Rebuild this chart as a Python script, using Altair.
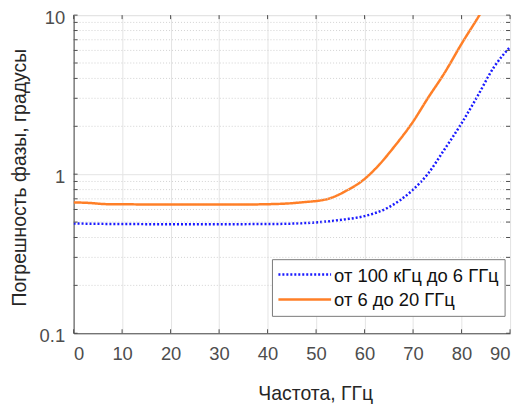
import altair as alt
import pandas as pd

# Data
freq_blue = [0, 10, 20, 30, 40, 45, 52.5, 56, 60, 64.8, 70, 73, 76.4, 80, 83.2, 86.7, 90]
err_blue = [0.49, 0.486, 0.485, 0.485, 0.486, 0.489, 0.505, 0.52, 0.545, 0.615, 0.80, 1.0, 1.42, 2.09, 3.06, 4.72, 6.3]
freq_orange = [0, 3, 7, 20, 35, 42, 47, 52.5, 56, 60, 62.7, 66.2, 70, 73, 76.4, 80, 83.6, 84.5]
err_orange = [0.665, 0.66, 0.648, 0.645, 0.645, 0.65, 0.665, 0.70, 0.78, 0.933, 1.12, 1.50, 2.14, 2.99, 4.29, 6.6, 9.9, 11.0]
series_names = ["от 100 кГц до 6 ГГц", "от 6 до 20 ГГц"]
series_colors = ["#1a1aff", "#ff7f27"]
x_ticks = [0, 10, 20, 30, 40, 50, 60, 70, 80, 90]
y_major = [0.1, 1, 10]
y_minor = [0.2, 0.3, 0.4, 0.5, 0.6, 0.7, 0.8, 0.9, 2, 3, 4, 5, 6, 7, 8, 9]

df = pd.concat([
    pd.DataFrame({"f": freq_blue, "e": err_blue, "s": series_names[0]}),
    pd.DataFrame({"f": freq_orange, "e": err_orange, "s": series_names[1]}),
])
minor_df = pd.DataFrame({"v": y_minor})
all_y_df = pd.DataFrame({"v": y_minor + y_major})
xt_df = pd.DataFrame({"t": x_ticks})

FONT = "Liberation Sans"
W, H = 439, 320
LBL = 18.5
TTL = 19.5

x_scale = alt.Scale(domain=[0, 90], nice=False, zero=False)
y_scale = alt.Scale(type="log", domain=[0.1, 10], nice=False)

lines = alt.Chart(df).mark_line(clip=True, strokeWidth=2.5, interpolate="monotone").encode(
    x=alt.X("f:Q", scale=x_scale,
            axis=alt.Axis(values=x_ticks, title="Частота, ГГц", grid=True,
                          gridColor="#e4e4e4", labelFontSize=LBL, labelColor="#4d4d4d",
                          titleFontSize=TTL, titleFontWeight="normal", titleColor="#262626",
                          labelPadding=11, tickSize=0, titleX=243, titleY=61,
                          titleBaseline="middle", domainColor="#4d4d4d")),
    y=alt.Y("e:Q", scale=y_scale,
            axis=alt.Axis(values=y_major, title="Погрешность фазы, градусы", grid=True,
                          gridColor="#e4e4e4", labelFontSize=LBL, labelColor="#4d4d4d",
                          labelExpr="datum.value < 0.5 ? '0.1' : datum.value < 5 ? '1' : '10'",
                          labelOffset=2,
                          titleFontSize=TTL, titleFontWeight="normal", titleColor="#262626",
                          labelPadding=9, tickSize=0, titleX=-54, titleY=163,
                          titleBaseline="middle", domainColor="#4d4d4d")),
    color=alt.Color("s:N", scale=alt.Scale(domain=series_names, range=series_colors), legend=None),
    strokeDash=alt.StrokeDash("s:N", scale=alt.Scale(domain=series_names, range=[[2, 2], [1, 0]]),
                              legend=None),
)

minor = alt.Chart(minor_df).mark_rule(
    color="#d2d2d2", strokeDash=[1, 2], strokeWidth=1
).encode(y=alt.Y("v:Q", scale=y_scale))

# inward tick marks (MATLAB style)
yt_left = alt.Chart(all_y_df).mark_rule(color="#4d4d4d").encode(
    y=alt.Y("v:Q", scale=y_scale), x=alt.value(0), x2=alt.value(4))
yt_right = alt.Chart(all_y_df).mark_rule(color="#4d4d4d").encode(
    y=alt.Y("v:Q", scale=y_scale), x=alt.value(W - 4), x2=alt.value(W))
xt_bot = alt.Chart(xt_df).mark_rule(color="#4d4d4d").encode(
    x=alt.X("t:Q", scale=x_scale), y=alt.value(H - 4), y2=alt.value(H))
xt_top = alt.Chart(xt_df).mark_rule(color="#4d4d4d").encode(
    x=alt.X("t:Q", scale=x_scale), y=alt.value(0), y2=alt.value(4))

# legend box (manual, MATLAB style)
leg_df = pd.DataFrame({"s": series_names})
box = alt.Chart(leg_df.head(1)).mark_rect(fill="white", stroke="#7a7a7a", strokeWidth=1).encode(
    x=alt.value(200), x2=alt.value(434), y=alt.value(246), y2=alt.value(303))
leg_blue = alt.Chart(leg_df.head(1)).mark_rule(color=series_colors[0], strokeWidth=2.5,
                                                strokeDash=[2, 2]).encode(
    x=alt.value(206), x2=alt.value(259), y=alt.value(261))
leg_orange = alt.Chart(leg_df.tail(1)).mark_rule(color=series_colors[1], strokeWidth=2.5).encode(
    x=alt.value(206), x2=alt.value(259), y=alt.value(286))
leg_t1 = alt.Chart(leg_df.head(1)).mark_text(align="left", baseline="middle", fontSize=LBL,
                                             font=FONT, color="#111").encode(
    x=alt.value(262), y=alt.value(262), text="s:N")
leg_t2 = alt.Chart(leg_df.tail(1)).mark_text(align="left", baseline="middle", fontSize=LBL,
                                             font=FONT, color="#111").encode(
    x=alt.value(262), y=alt.value(287), text="s:N")

chart = alt.layer(
    lines, minor, yt_left, yt_right, xt_bot, xt_top,
    box, leg_blue, leg_orange, leg_t1, leg_t2
).resolve_scale(y="shared", x="shared").properties(
    width=W, height=H,
    autosize=alt.AutoSizeParams(type="none"),
    padding={"left": 66, "top": 6, "right": 10, "bottom": 70},
).configure_view(stroke="#4d4d4d", strokeWidth=1).configure(font=FONT).configure_axis(
    labelFont=FONT, titleFont=FONT
)

chart.save("out.html", embed_options={"renderer": "svg", "actions": False})
